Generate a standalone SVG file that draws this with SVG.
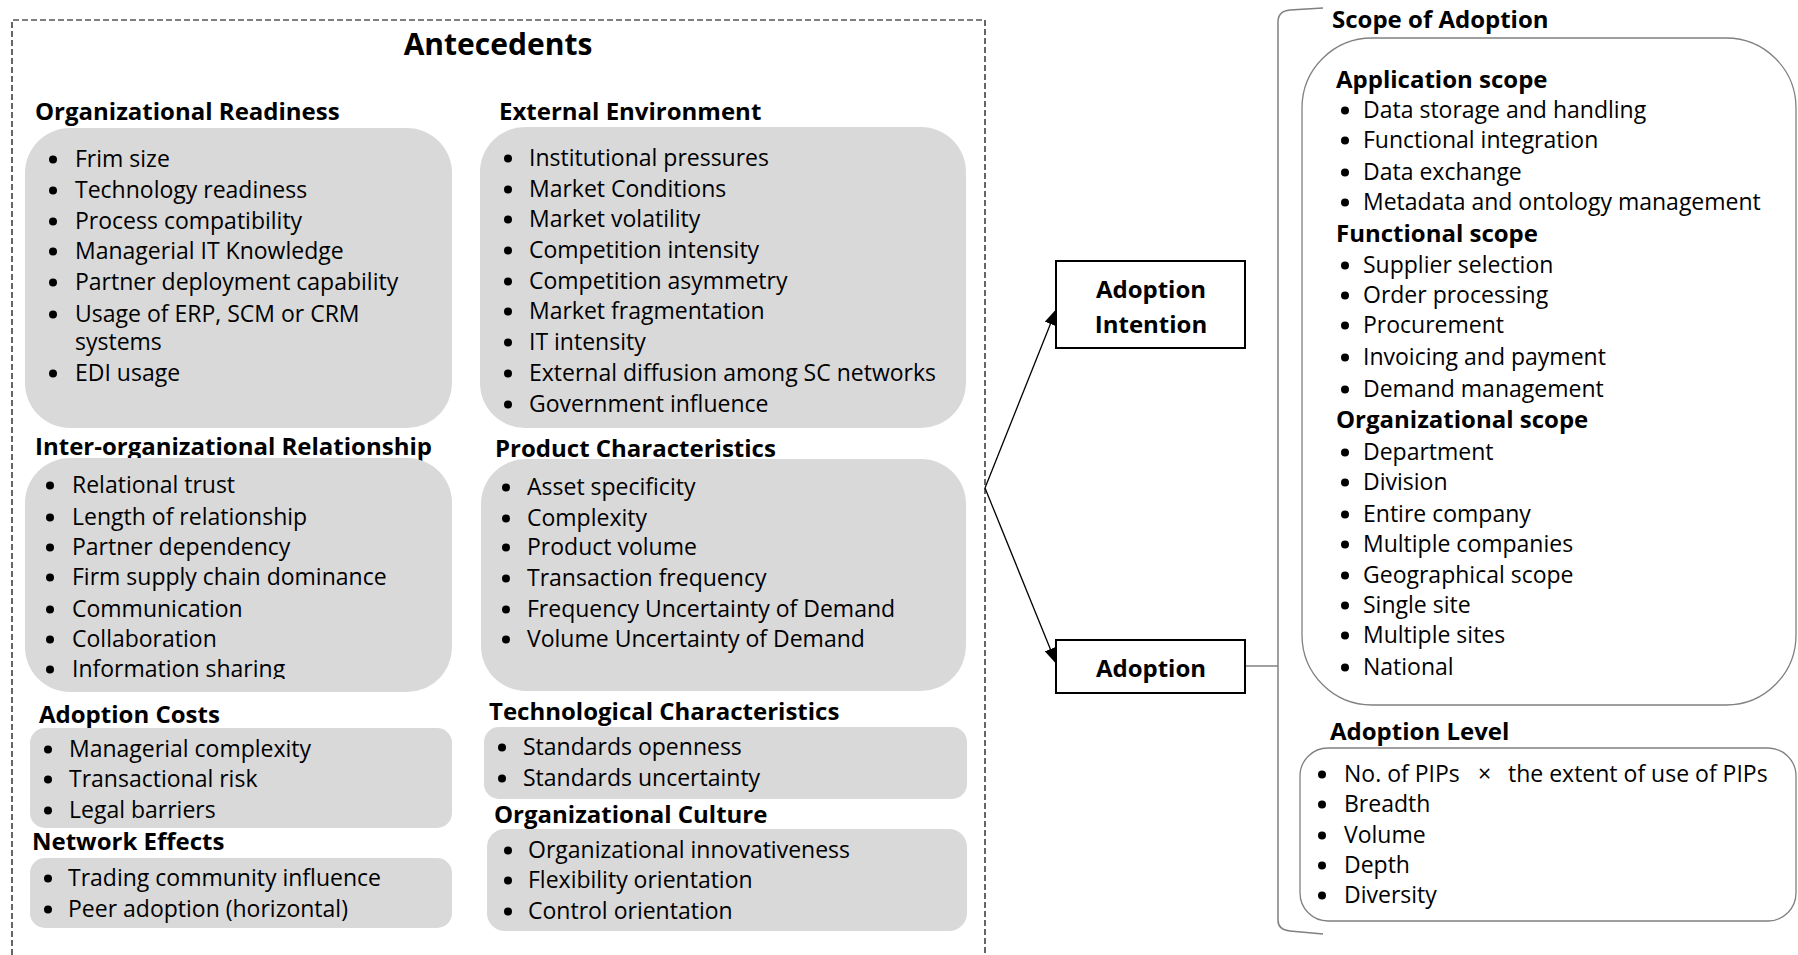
<svg xmlns="http://www.w3.org/2000/svg" width="1798" height="955" viewBox="0 0 1798 955">
<style>
text{font-family:'Open Sans','Liberation Sans',sans-serif;fill:#000}
.h{font-size:24px;font-weight:700}
.t{font-size:23px}
.ttl{font-size:30px;font-weight:700}
.box{fill:#d9d9d9}
.node{fill:#fff;stroke:#000;stroke-width:2}
.gbox{fill:none;stroke:#808080;stroke-width:1.3}
.b{fill:#000}
.conn{fill:none;stroke:#000;stroke-width:1.3}
.gconn{fill:none;stroke:#808080;stroke-width:1.5}
</style>
<defs>
<marker id="arr" markerUnits="userSpaceOnUse" markerWidth="16" markerHeight="12" refX="15" refY="6" orient="auto">
<path d="M0,0 L16,6 L0,12 Z" fill="#000"/>
</marker>
<clipPath id="clipInfo"><rect x="0" y="600" width="500" height="79"/></clipPath>
</defs>
<rect width="1798" height="955" fill="#fff"/>

<g id="antecedents">
<path d="M12,955 L12,20 L985,20 L985,955" fill="none" stroke="#000" stroke-width="1.2" stroke-dasharray="6 3"/>
<text class="ttl" x="498" y="55" text-anchor="middle">Antecedents</text>
</g>

<g id="org-readiness">
<text class="h" x="35" y="120">Organizational Readiness</text>
<rect class="box" x="25" y="128" width="427" height="300" rx="45"/>
<g class="b"><circle cx="53" cy="159.5" r="4"/><circle cx="53" cy="190.5" r="4"/><circle cx="53" cy="221.5" r="4"/><circle cx="53" cy="251.5" r="4"/><circle cx="53" cy="282.5" r="4"/><circle cx="53" cy="314.5" r="4"/><circle cx="53" cy="373.5" r="4"/></g>
<text class="t" x="75" y="167">Frim size</text>
<text class="t" x="75" y="198">Technology readiness</text>
<text class="t" x="75" y="229">Process compatibility</text>
<text class="t" x="75" y="259">Managerial IT Knowledge</text>
<text class="t" x="75" y="290">Partner deployment capability</text>
<text class="t" x="75" y="322">Usage of ERP, SCM or CRM</text>
<text class="t" x="75" y="350">systems</text>
<text class="t" x="75" y="381">EDI usage</text>
</g>

<g id="inter-org">
<text class="h" x="35" y="455">Inter-organizational Relationship</text>
<rect class="box" x="25" y="458" width="427" height="234" rx="45"/>
<g class="b"><circle cx="50" cy="485.5" r="4"/><circle cx="50" cy="517.5" r="4"/><circle cx="50" cy="547.5" r="4"/><circle cx="50" cy="577.5" r="4"/><circle cx="50" cy="609.5" r="4"/><circle cx="50" cy="639.5" r="4"/><circle cx="50" cy="669.5" r="4"/></g>
<text class="t" x="72" y="493">Relational trust</text>
<text class="t" x="72" y="525">Length of relationship</text>
<text class="t" x="72" y="555">Partner dependency</text>
<text class="t" x="72" y="585">Firm supply chain dominance</text>
<text class="t" x="72" y="617">Communication</text>
<text class="t" x="72" y="647">Collaboration</text>
<text class="t" x="72" y="677" clip-path="url(#clipInfo)">Information sharing</text>
</g>

<g id="adoption-costs">
<text class="h" x="39" y="723">Adoption Costs</text>
<rect class="box" x="30" y="728" width="422" height="100" rx="15"/>
<g class="b"><circle cx="48" cy="749.5" r="4"/><circle cx="48" cy="779.5" r="4"/><circle cx="48" cy="810.5" r="4"/></g>
<text class="t" x="69" y="757">Managerial complexity</text>
<text class="t" x="69" y="787">Transactional risk</text>
<text class="t" x="69" y="818">Legal barriers</text>
</g>

<g id="network-effects">
<text class="h" x="32" y="850">Network Effects</text>
<rect class="box" x="30" y="858" width="422" height="70" rx="15"/>
<g class="b"><circle cx="48" cy="878.5" r="4"/><circle cx="48" cy="909.5" r="4"/></g>
<text class="t" x="68" y="886">Trading community influence</text>
<text class="t" x="68" y="917">Peer adoption (horizontal)</text>
</g>

<g id="external-environment">
<text class="h" x="499" y="120">External Environment</text>
<rect class="box" x="480" y="127" width="486" height="301" rx="45"/>
<g class="b"><circle cx="508" cy="158.5" r="4"/><circle cx="508" cy="189.5" r="4"/><circle cx="508" cy="219.5" r="4"/><circle cx="508" cy="250.5" r="4"/><circle cx="508" cy="281.5" r="4"/><circle cx="508" cy="311.5" r="4"/><circle cx="508" cy="342.5" r="4"/><circle cx="508" cy="373.5" r="4"/><circle cx="508" cy="404.5" r="4"/></g>
<text class="t" x="529" y="166">Institutional pressures</text>
<text class="t" x="529" y="197">Market Conditions</text>
<text class="t" x="529" y="227">Market volatility</text>
<text class="t" x="529" y="258">Competition intensity</text>
<text class="t" x="529" y="289">Competition asymmetry</text>
<text class="t" x="529" y="319">Market fragmentation</text>
<text class="t" x="529" y="350">IT intensity</text>
<text class="t" x="529" y="381">External diffusion among SC networks</text>
<text class="t" x="529" y="412">Government influence</text>
</g>

<g id="product-characteristics">
<text class="h" x="495" y="457">Product Characteristics</text>
<rect class="box" x="481" y="459" width="485" height="232" rx="45"/>
<g class="b"><circle cx="506" cy="487.5" r="4"/><circle cx="506" cy="518.5" r="4"/><circle cx="506" cy="547.5" r="4"/><circle cx="506" cy="578.5" r="4"/><circle cx="506" cy="609.5" r="4"/><circle cx="506" cy="639.5" r="4"/></g>
<text class="t" x="527" y="495">Asset specificity</text>
<text class="t" x="527" y="526">Complexity</text>
<text class="t" x="527" y="555">Product volume</text>
<text class="t" x="527" y="586">Transaction frequency</text>
<text class="t" x="527" y="617">Frequency Uncertainty of Demand</text>
<text class="t" x="527" y="647">Volume Uncertainty of Demand</text>
</g>

<g id="technological-characteristics">
<text class="h" x="489" y="720">Technological Characteristics</text>
<rect class="box" x="484" y="727" width="483" height="72" rx="15"/>
<g class="b"><circle cx="502" cy="747.5" r="4"/><circle cx="502" cy="778.5" r="4"/></g>
<text class="t" x="523" y="755">Standards openness</text>
<text class="t" x="523" y="786">Standards uncertainty</text>
</g>

<g id="organizational-culture">
<text class="h" x="494" y="823">Organizational Culture</text>
<rect class="box" x="487" y="829" width="480" height="102" rx="18"/>
<g class="b"><circle cx="508" cy="850.5" r="4"/><circle cx="508" cy="880.5" r="4"/><circle cx="508" cy="911.5" r="4"/></g>
<text class="t" x="528" y="858">Organizational innovativeness</text>
<text class="t" x="528" y="888">Flexibility orientation</text>
<text class="t" x="528" y="919">Control orientation</text>
</g>

<g id="connectors">
<path class="conn" d="M985,488 L1056,310" marker-end="url(#arr)"/>
<path class="conn" d="M985,488 L1056,663" marker-end="url(#arr)"/>
<path class="gconn" d="M1245,666 L1278,666"/>
<path class="gconn" d="M1323,8 L1290,10 Q1278,11 1278,22 L1278,920 Q1278,930 1290,931 L1323,934"/>
</g>

<g id="adoption-intention">
<rect class="node" x="1056" y="261" width="189" height="87"/>
<text class="h" x="1151" y="298" text-anchor="middle">Adoption</text>
<text class="h" x="1151" y="333" text-anchor="middle">Intention</text>
</g>

<g id="adoption">
<rect class="node" x="1056" y="640" width="189" height="53"/>
<text class="h" x="1151" y="677" text-anchor="middle">Adoption</text>
</g>

<g id="scope-of-adoption">
<text class="h" x="1332" y="28">Scope of Adoption</text>
<rect class="gbox" x="1302" y="38" width="494" height="667" rx="70"/>
<text class="h" x="1336" y="88">Application scope</text>
<g class="b"><circle cx="1345" cy="110.5" r="4"/><circle cx="1345" cy="140.5" r="4"/><circle cx="1345" cy="172.5" r="4"/><circle cx="1345" cy="202.5" r="4"/></g>
<text class="t" x="1363" y="118">Data storage and handling</text>
<text class="t" x="1363" y="148">Functional integration</text>
<text class="t" x="1363" y="180">Data exchange</text>
<text class="t" x="1363" y="210">Metadata and ontology management</text>
<text class="h" x="1336" y="242">Functional scope</text>
<g class="b"><circle cx="1345" cy="265.5" r="4"/><circle cx="1345" cy="295.5" r="4"/><circle cx="1345" cy="325.5" r="4"/><circle cx="1345" cy="357.5" r="4"/><circle cx="1345" cy="389.5" r="4"/></g>
<text class="t" x="1363" y="273">Supplier selection</text>
<text class="t" x="1363" y="303">Order processing</text>
<text class="t" x="1363" y="333">Procurement</text>
<text class="t" x="1363" y="365">Invoicing and payment</text>
<text class="t" x="1363" y="397">Demand management</text>
<text class="h" x="1336" y="428">Organizational scope</text>
<g class="b"><circle cx="1345" cy="452.5" r="4"/><circle cx="1345" cy="482.5" r="4"/><circle cx="1345" cy="514.5" r="4"/><circle cx="1345" cy="544.5" r="4"/><circle cx="1345" cy="575.5" r="4"/><circle cx="1345" cy="605.5" r="4"/><circle cx="1345" cy="635.5" r="4"/><circle cx="1345" cy="667.5" r="4"/></g>
<text class="t" x="1363" y="460">Department</text>
<text class="t" x="1363" y="490">Division</text>
<text class="t" x="1363" y="522">Entire company</text>
<text class="t" x="1363" y="552">Multiple companies</text>
<text class="t" x="1363" y="583">Geographical scope</text>
<text class="t" x="1363" y="613">Single site</text>
<text class="t" x="1363" y="643">Multiple sites</text>
<text class="t" x="1363" y="675">National</text>
</g>

<g id="adoption-level">
<text class="h" x="1330" y="740">Adoption Level</text>
<rect class="gbox" x="1300" y="748" width="496" height="173" rx="28"/>
<g class="b"><circle cx="1322" cy="774.5" r="4"/><circle cx="1322" cy="804.5" r="4"/><circle cx="1322" cy="835.5" r="4"/><circle cx="1322" cy="865.5" r="4"/><circle cx="1322" cy="895.5" r="4"/></g>
<text class="t" y="782"><tspan x="1344">No. of PIPs</tspan><tspan x="1478">×</tspan><tspan x="1508">the extent of use of PIPs</tspan></text>
<text class="t" x="1344" y="812">Breadth</text>
<text class="t" x="1344" y="843">Volume</text>
<text class="t" x="1344" y="873">Depth</text>
<text class="t" x="1344" y="903">Diversity</text>
</g>
</svg>
